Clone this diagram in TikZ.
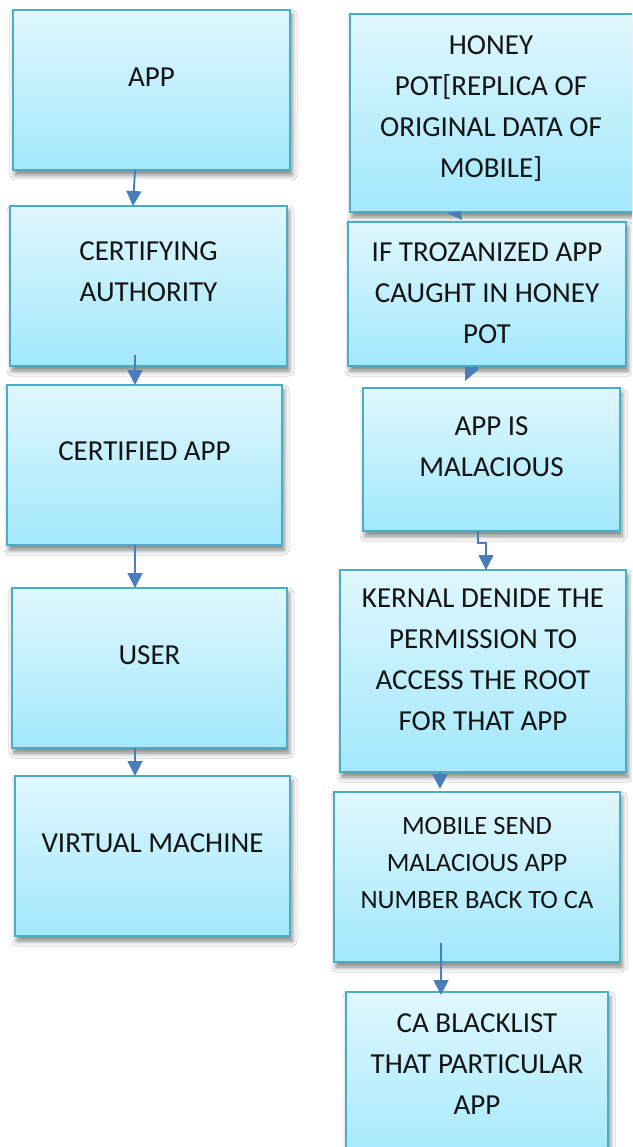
\documentclass[tikz,border=0pt]{standalone}
\usepackage{fontspec}
\setmainfont{Carlito}
\usetikzlibrary{arrows.meta,shadows.blur,calc}

\definecolor{boxedge}{HTML}{4BACC6}
\definecolor{boxtop}{HTML}{E0F7FD}
\definecolor{boxbottom}{HTML}{A2E8FC}
\definecolor{arrowblue}{HTML}{4A7EBB}
\definecolor{inktext}{HTML}{141414}

\tikzset{
  box/.style={draw=boxedge, line width=1.6pt, top color=boxtop, bottom color=boxbottom,
    anchor=north west, inner sep=0pt, outer sep=0pt,
    blur shadow={shadow xshift=2pt, shadow yshift=-5pt, shadow blur radius=5pt, shadow opacity=50}},
  txt/.style={anchor=north, align=center, inner sep=0pt, text=inktext,
    font=\fontsize{29}{41}\selectfont},
  smalltxt/.style={txt, font=\fontsize{26.5}{37}\selectfont},
  arr/.style={draw=arrowblue, line width=1.9pt, -{Triangle[width=15pt,length=15pt]}},
}

\begin{document}
\begin{tikzpicture}[x=1pt,y=-1pt]
\useasboundingbox (0,0) rectangle (632,1147);
\clip (0,0) rectangle (632,1147);
\fill[white] (0,0) rectangle (632,1147);

% left column
\node[box, minimum width=277pt, minimum height=160pt] (b1) at (13,10) {};
\node[box, minimum width=277pt, minimum height=160pt] (b2) at (10,206) {};
\node[box, minimum width=275pt, minimum height=160pt] (b3) at (7,385) {};
\node[box, minimum width=275pt, minimum height=160pt] (b4) at (12,588) {};
\node[box, minimum width=275pt, minimum height=160pt] (b5) at (15,776) {};

\node[txt] (t1) at (b1.north |- 0,68) {APP};
\node[txt] (t2) at (b2.north |- 0,241) {CERTIFYING\\AUTHORITY};
\node[txt] (t3) at (b3.north |- 0,441) {CERTIFIED APP};
\node[txt] (t4) at (b4.north |- 0,645) {USER};
\node[txt] (t5) at (b5.north |- 0,833) {VIRTUAL MACHINE};

% right column
\node[box, minimum width=292pt, minimum height=198pt] (r1) at (350,14) {};
\node[box, minimum width=278pt, minimum height=144pt] (r2) at (348,222) {};
\node[box, minimum width=257pt, minimum height=143pt] (r3) at (363,388) {};
\node[box, minimum width=286pt, minimum height=202pt] (r4) at (340,570) {};
\node[box, minimum width=286pt, minimum height=170pt] (r5) at (334,792) {};
\node[box, minimum width=262pt, minimum height=175pt] (r6) at (346,992) {};

\node[txt] (s1) at (491,35) {HONEY\\POT[REPLICA OF\\ORIGINAL DATA OF\\MOBILE]};
\node[txt] (s2) at (r2.north |- 0,242) {IF TROZANIZED APP\\CAUGHT IN HONEY\\POT};
\node[txt] (s3) at (r3.north |- 0,416) {APP IS\\MALACIOUS};
\node[txt] (s4) at (r4.north |- 0,589) {KERNAL DENIDE THE\\PERMISSION TO\\ACCESS THE ROOT\\FOR THAT APP};
\node[smalltxt] (s5) at (r5.north |- 0,817.5) {MOBILE SEND\\MALACIOUS APP\\NUMBER BACK TO CA};
\node[txt] (s6) at (r6.north |- 0,1013) {CA BLACKLIST\\THAT PARTICULAR\\APP};

% left connectors
\draw[arr] (b1.south -| 135,0) -- (b2.north -| 133,0);
\draw[arr] ($(b2.south -| 135,0)+(0,-11)$) -- (b3.north -| 135,0);
\draw[arr] (b3.south -| 135,0) -- (b4.north -| 135,0);
\draw[arr] (b4.south -| 135,0) -- (b5.north -| 135,0);

% right connectors
\fill[arrowblue] (447,213) -- (461,211) -- (462,220) -- cycle;
\fill[arrowblue] (465,367) -- (478,367) -- (478,370) -- (465,381) -- cycle;
\draw[arr, line width=1.5pt] (r3.south -| 478,0) -- ++(0,12) -| (r4.north -| 486,0);
\draw[arr] (r4.south -| 440,0) -- ($(r5.north -| 440,0)+(0,-3)$);
\draw[arr] ($(r5.south -| 441,0)+(0,-19)$) -- ($(r6.north -| 441,0)+(0,3)$);
\end{tikzpicture}
\end{document}
